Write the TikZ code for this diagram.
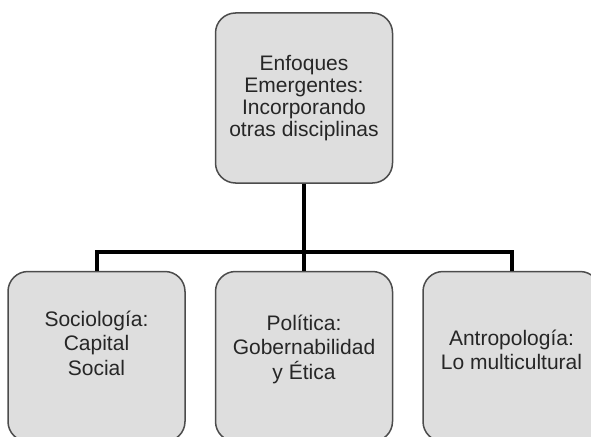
\documentclass[tikz,border=0pt]{standalone}
\usepackage{fontspec}
\setmainfont{Liberation Sans}
\usepackage{tikz}
\usetikzlibrary{positioning}
\tikzset{
    %Define style for boxes
    caja/.style={
           rectangle,
           rounded corners=20pt,
           draw=black!70, line width=1.5pt,
           fill=black!13,
           text=black!85,
           minimum width=177pt,
           minimum height=170pt,
           inner sep=0pt,
           align=center,
           font=\fontsize{21}{24.5}\selectfont},
    % Define line style
    linea/.style={
           draw=black,
           line width=4pt}
}
\begin{document}
\begin{tikzpicture}[x=1pt,y=-1pt,node distance=87pt]
\useasboundingbox (0,0) rectangle (591,436);

\node[caja, font=\fontsize{21}{22}\selectfont](1) at (304,98) {Enfoques\\Emergentes:\\Incorporando\\otras disciplinas};
\node[caja, text depth=19pt, below=of 1](3){Política:\\Gobernabilidad\\y Ética};
\node[caja, text depth=27pt, left=29pt of 3](2){Sociología:\\Capital\\Social};
\node[caja, text depth=13pt, right=29pt of 3](4){Antropología:\\Lo multicultural};
\coordinate (bar) at (304,252);

 \path[linea]
 	(1) -- (bar)
 	(bar) -- (3)
 	(2.north) |- (bar) -| (4.north);

\end{tikzpicture}
\end{document}
